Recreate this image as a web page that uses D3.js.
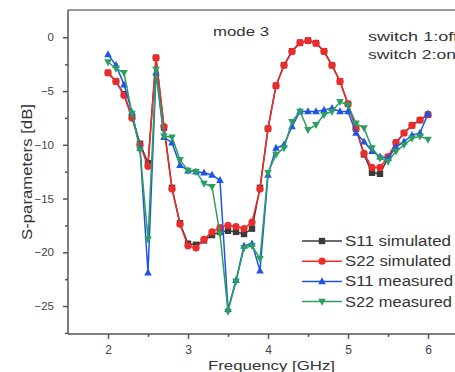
<!DOCTYPE html>
<html>
<head>
<meta charset="utf-8">
<script src="https://cdn.jsdelivr.net/npm/d3@7"></script>
<style>
  body { margin: 0; background: #fff; }
  svg { display: block; font-family: "Liberation Sans", Arial, sans-serif; }
  .axis path, .axis line { stroke: #555; stroke-width: 1.5; }
  .axis text { fill: #444; }
  .lbl { fill: #333; }
</style>
</head>
<body>
<svg width="455" height="372"></svg>
<script>
// data
const freq = [2.0, 2.1, 2.2, 2.3, 2.4, 2.5, 2.6, 2.7, 2.8, 2.9,
  3.0, 3.1, 3.2, 3.3, 3.4, 3.5, 3.6, 3.7, 3.8, 3.9,
  4.0, 4.1, 4.2, 4.3, 4.4, 4.5, 4.6, 4.7, 4.8, 4.9,
  5.0, 5.1, 5.2, 5.3, 5.4, 5.5, 5.6, 5.7, 5.8, 5.9, 6.0];

const s11Sim = [-3.3, -4.1, -5.3, -7.4, -9.9, -11.7, -1.9, -8.4, -14.0, -17.3,
  -19.2, -19.3, -18.9, -18.4, -18.1, -18.0, -18.1, -18.3, -17.8, -14.0,
  -8.5, -4.5, -2.6, -1.3, -0.5, -0.3, -0.55, -1.3, -2.6, -4.1,
  -6.2, -8.5, -10.9, -12.6, -12.7, -11.2, -9.8, -8.9, -8.2, -7.7, -7.2];

const s22Sim = [-3.3, -4.1, -5.4, -7.5, -10.0, -12.0, -1.9, -8.3, -14.1, -17.4,
  -19.4, -19.6, -18.8, -18.1, -17.7, -17.5, -17.6, -17.8, -17.2, -14.1,
  -8.5, -4.5, -2.6, -1.3, -0.5, -0.3, -0.55, -1.3, -2.6, -4.1,
  -6.2, -8.5, -10.8, -12.1, -12.1, -11.1, -9.8, -8.9, -8.2, -7.7, -7.2];

const s11Meas = [-1.6, -2.6, -4.4, -7.0, -10.3, -21.9, -3.3, -9.3, -9.8, -11.9,
  -12.4, -12.5, -12.6, -12.8, -13.3, -25.3, -22.6, -19.4, -19.2, -21.7,
  -12.8, -10.3, -10.0, -8.3, -6.9, -6.9, -6.9, -6.75, -6.6, -6.9,
  -6.9, -8.9, -9.7, -10.6, -11.1, -11.25, -10.2, -9.7, -9.1, -8.9, -7.1];

const s22Meas = [-2.3, -2.9, -3.3, -7.1, -10.5, -18.8, -3.0, -9.2, -9.3, -11.4,
  -12.4, -12.5, -13.6, -13.9, -18.3, -25.5, -22.7, -19.6, -19.4, -20.6,
  -12.6, -10.9, -10.3, -7.85, -6.9, -8.6, -8.15, -7.2, -6.9, -6.0,
  -6.3, -8.0, -8.45, -10.3, -11.25, -11.55, -10.6, -10.0, -9.4, -9.2, -9.5];

const seriesNames = ["S11 simulated", "S22 simulated", "S11 measured", "S22 measured"];
const seriesValues = [s11Sim, s22Sim, s11Meas, s22Meas];
const seriesColors = ["#3a3a3a", "#ee2b2b", "#1f55e6", "#2a9f5f"];
const seriesMarkers = ["square", "circle", "triangle", "down"];

const xTicks = [2, 3, 4, 5, 6];
const yTicks = [0, -5, -10, -15, -20, -25];

const svg = d3.select("svg");

const x = d3.scaleLinear().domain([1.5, 6.5]).range([68, 468]);
const y = d3.scaleLinear().domain([-27.6, 2.54]).range([334, 10]);

// frame
svg.append("line")
  .attr("x1", 68).attr("x2", 468)
  .attr("y1", 10).attr("y2", 10)
  .attr("stroke", "#777").attr("stroke-width", 1.5);

// axes
const xAxis = svg.append("g")
  .attr("class", "axis")
  .attr("transform", "translate(0,334)")
  .call(d3.axisBottom(x).tickValues(xTicks).tickSize(5).tickPadding(6).tickFormat(d3.format("d")));
xAxis.select(".domain").remove();
xAxis.selectAll("text").attr("font-size", 12);
xAxis.append("line").attr("x1", 68).attr("x2", 468).attr("stroke", "#555").attr("stroke-width", 1.5);

svg.append("g")
  .attr("class", "axis")
  .attr("transform", "translate(0,334)")
  .call(d3.axisBottom(x).tickValues([2.5, 3.5, 4.5, 5.5]).tickSize(3).tickFormat(""))
  .select(".domain").remove();

const yAxis = svg.append("g")
  .attr("class", "axis")
  .attr("transform", "translate(68,0)")
  .call(d3.axisLeft(y).tickValues(yTicks).tickSize(5).tickPadding(9).tickFormat(d3.format("d")));
yAxis.select(".domain").remove();
yAxis.selectAll("text").attr("font-size", 11.5);
yAxis.append("line").attr("y1", 10).attr("y2", 334).attr("stroke", "#555").attr("stroke-width", 1.5);

svg.append("g")
  .attr("class", "axis")
  .attr("transform", "translate(68,0)")
  .call(d3.axisLeft(y).tickValues([-2.5, -7.5, -12.5, -17.5, -22.5, -27.5]).tickSize(3).tickFormat(""))
  .select(".domain").remove();

// axis titles
svg.append("text")
  .attr("class", "lbl")
  .attr("x", 208).attr("y", 369.5)
  .attr("font-size", 13.5)
  .attr("textLength", 127).attr("lengthAdjust", "spacingAndGlyphs")
  .text("Frequency [GHz]");

svg.append("text")
  .attr("class", "lbl")
  .attr("transform", "translate(32,240) rotate(-90)")
  .attr("font-size", 14)
  .attr("textLength", 136).attr("lengthAdjust", "spacingAndGlyphs")
  .text("S-parameters [dB]");

// annotations
svg.append("text").attr("class", "lbl").attr("x", 213).attr("y", 35.5)
  .attr("font-size", 13).attr("textLength", 56).attr("lengthAdjust", "spacingAndGlyphs").text("mode 3");
svg.append("text").attr("class", "lbl").attr("x", 368).attr("y", 40.5)
  .attr("font-size", 13).attr("textLength", 90).attr("lengthAdjust", "spacingAndGlyphs").text("switch 1:off");
svg.append("text").attr("class", "lbl").attr("x", 368).attr("y", 58.5)
  .attr("font-size", 13).attr("textLength", 88).attr("lengthAdjust", "spacingAndGlyphs").text("switch 2:on");

// markers
function marker(g, type, color) {
  if (type === "square") {
    g.append("rect").attr("x", -3.2).attr("y", -3.2).attr("width", 6.4).attr("height", 6.4).attr("fill", color);
  } else if (type === "circle") {
    g.append("circle").attr("r", 3.6).attr("fill", color);
  } else if (type === "triangle") {
    g.append("path").attr("d", "M0,-4.2L3.8,2.8L-3.8,2.8Z").attr("fill", color);
  } else {
    g.append("path").attr("d", "M0,4.2L3.8,-2.8L-3.8,-2.8Z").attr("fill", color);
  }
}

const line = d3.line()
  .x((d, i) => x(freq[i]))
  .y(d => y(d));

seriesValues.forEach((vals, k) => {
  svg.append("path")
    .attr("d", line(vals))
    .attr("fill", "none")
    .attr("stroke", seriesColors[k])
    .attr("stroke-width", 1.5);

  svg.selectAll(".m" + k)
    .data(vals)
    .enter()
    .append("g")
    .attr("class", "m" + k)
    .attr("transform", (d, i) => "translate(" + x(freq[i]) + "," + y(d) + ")")
    .each(function() { marker(d3.select(this), seriesMarkers[k], seriesColors[k]); });
});

// legend
const legendWidths = [106, 106, 108, 107];
const legend = svg.append("g")
  .attr("transform", "translate(302,241)");

seriesNames.forEach((name, k) => {
  const row = legend.append("g").attr("transform", "translate(0," + (k * 20.2) + ")");
  row.append("line")
    .attr("x1", 0).attr("x2", 40)
    .attr("stroke", seriesColors[k]).attr("stroke-width", 1.5);
  marker(row.append("g").attr("transform", "translate(20,0)"), seriesMarkers[k], seriesColors[k]);
  row.append("text")
    .attr("class", "lbl")
    .attr("x", 43).attr("y", 5)
    .attr("font-size", 14)
    .attr("textLength", legendWidths[k]).attr("lengthAdjust", "spacingAndGlyphs")
    .text(name);
});
</script>
</body>
</html>
